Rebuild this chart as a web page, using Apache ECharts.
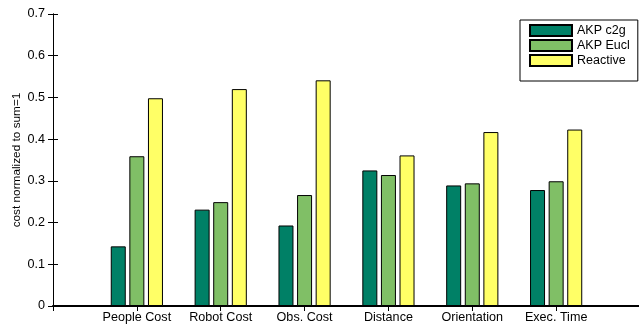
<!DOCTYPE html>
<html>
<head>
<meta charset="utf-8">
<script src="https://cdn.jsdelivr.net/npm/echarts@6/dist/echarts.min.js"></script>
<style>html,body{margin:0;padding:0;background:#fff;}#c{width:639px;height:325px;}</style>
</head>
<body>
<div id="c"></div>
<script>
const categories = ['People Cost', 'Robot Cost', 'Obs. Cost', 'Distance', 'Orientation', 'Exec. Time'];
const akpC2g = [0.143, 0.231, 0.193, 0.325, 0.289, 0.278];
const akpEucl = [0.359, 0.249, 0.266, 0.314, 0.294, 0.299];
const reactive = [0.498, 0.520, 0.541, 0.361, 0.417, 0.423];
const seriesNames = ['AKP c2g', 'AKP Eucl', 'Reactive'];
const yTicks = [0, 0.1, 0.2, 0.3, 0.4, 0.5, 0.6, 0.7];

const FONT = "'Liberation Sans', Arial, Helvetica, sans-serif";
const chart = echarts.init(document.getElementById('c'), null, {renderer: 'canvas'});

function toPoints(vals) { return vals.map((v, i) => [i + 1, v]); }
const colors = ['#008066', '#80BF66', '#FFFF66'];
const allVals = [akpC2g, akpEucl, reactive];

const option = {
  animation: false,
  backgroundColor: '#fff',
  grid: {left: 53, top: 14, width: 587, height: 292, containLabel: false, outerBoundsMode: 'none'},
  legend: {
    orient: 'vertical', left: 520, top: 20,
    itemWidth: 42, itemHeight: 11, itemGap: 2,
    padding: [4, 8, 14, 9],
    borderColor: '#000', borderWidth: 1, backgroundColor: '#fff',
    icon: 'rect',
    textStyle: {fontFamily: FONT, fontSize: 12.5, color: '#000'},
    data: seriesNames
  },
  xAxis: [{
    type: 'value', min: 0, max: categories.length + 1, interval: 1, position: 'bottom',
    axisLine: {show: true, lineStyle: {color: '#000', width: 2}},
    axisTick: {show: false},
    splitLine: {show: false},
    axisLabel: {
      margin: 5, fontFamily: FONT, fontSize: 12.6, color: '#000',
      formatter: v => (v >= 1 && v <= categories.length) ? categories[v - 1] : '',
      showMinLabel: false, showMaxLabel: false
    }
  }, {
    type: 'value', min: 0, max: categories.length + 1, interval: 1, position: 'top',
    axisLine: {show: true, lineStyle: {color: '#000', width: 1}},
    axisTick: {show: true, inside: true, length: 5, lineStyle: {color: '#000'}},
    splitLine: {show: false},
    axisLabel: {show: false}
  }],
  yAxis: [{
    type: 'value', min: yTicks[0], max: yTicks[yTicks.length - 1], interval: 0.1, position: 'left',
    name: 'cost normalized to sum=1', nameLocation: 'middle', nameGap: 30, nameRotate: 90,
    nameMoveOverlap: false,
    nameTextStyle: {fontFamily: FONT, fontSize: 11.8, color: '#000'},
    axisLine: {show: true, lineStyle: {color: '#000', width: 1}},
    axisTick: {show: true, inside: true, length: 5, lineStyle: {color: '#000'}},
    splitLine: {show: false},
    axisLabel: {
      margin: 8, fontFamily: FONT, fontSize: 12.6, color: '#000',
      formatter: v => v === 0 ? '0' : v.toFixed(1)
    }
  }, {
    type: 'value', min: yTicks[0], max: yTicks[yTicks.length - 1], interval: 0.1, position: 'right',
    axisLine: {show: true, lineStyle: {color: '#000', width: 1}},
    axisTick: {show: true, inside: true, length: 5, lineStyle: {color: '#000'}},
    splitLine: {show: false},
    axisLabel: {show: false}
  }],
  series: seriesNames.map((name, k) => ({
    name: name, type: 'bar', xAxisIndex: 0, yAxisIndex: 0,
    barWidth: 15, barGap: '24%',
    itemStyle: {color: colors[k], borderColor: '#000', borderWidth: 1},
    data: toPoints(allVals[k])
  }))
};
chart.setOption(option);
</script>
</body>
</html>
